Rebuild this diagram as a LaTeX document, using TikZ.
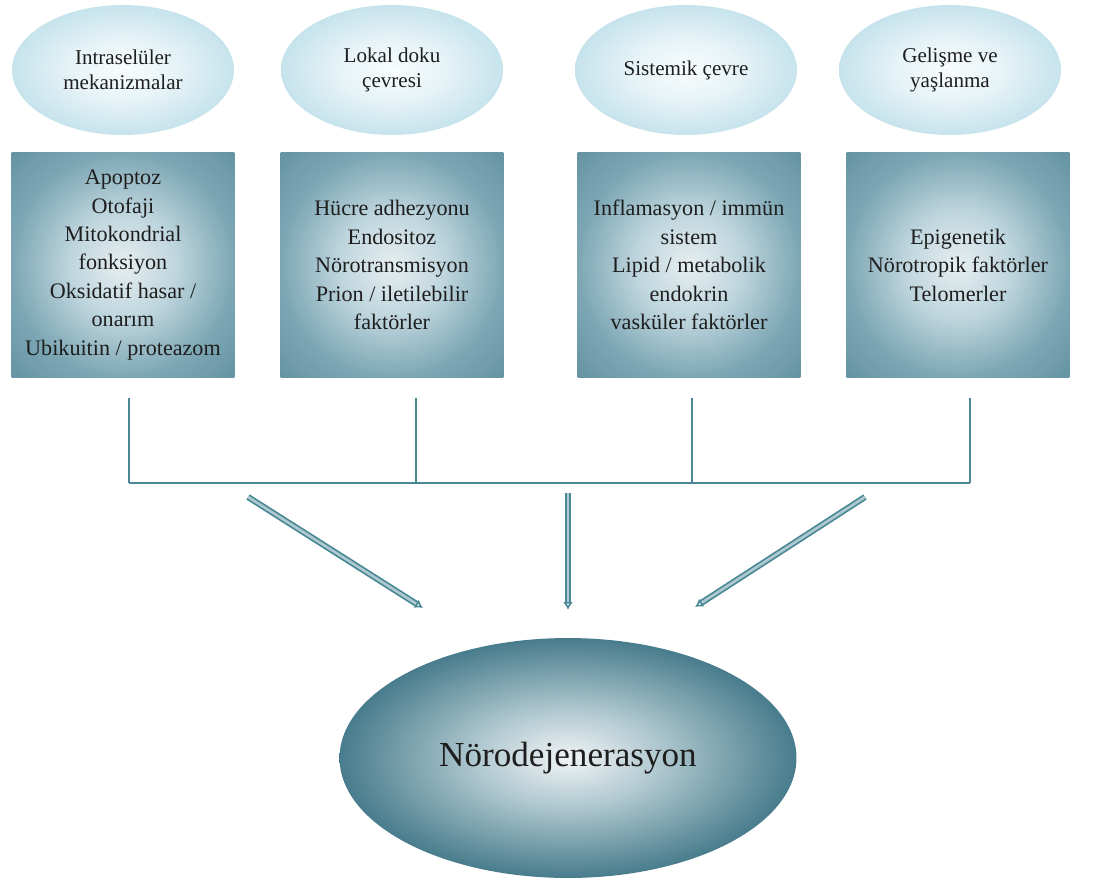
\documentclass[tikz,border=0pt]{standalone}
\usepackage{fontspec}
\setmainfont{Liberation Serif}
\usetikzlibrary{shapes.geometric,arrows.meta}

\definecolor{topin}{RGB}{248,252,253}
\definecolor{topmid}{RGB}{230,243,247}
\definecolor{topout}{RGB}{198,227,236}
\definecolor{boxin}{RGB}{230,238,240}
\definecolor{boxmid}{RGB}{190,213,221}
\definecolor{boxcol}{RGB}{124,166,180}
\definecolor{boxdark}{RGB}{100,146,162}
\definecolor{mainin}{RGB}{240,244,245}
\definecolor{mainmid}{RGB}{176,200,208}
\definecolor{maincol}{RGB}{72,124,140}
\definecolor{linecol}{RGB}{74,136,150}
\definecolor{textcol}{RGB}{30,30,30}

\pgfdeclareradialshading{topshade}{\pgfpointorigin}{color(0bp)=(topin); color(12bp)=(topmid); color(25bp)=(topout); color(50bp)=(topout)}
\pgfdeclareradialshading{boxshade}{\pgfpointorigin}{color(0bp)=(boxin); color(12bp)=(boxmid); color(25bp)=(boxcol); color(36bp)=(boxdark); color(50bp)=(boxdark)}
\pgfdeclareradialshading{mainshade}{\pgfpointorigin}{color(0bp)=(mainin); color(10bp)=(mainmid); color(25bp)=(maincol); color(50bp)=(maincol)}

\begin{document}
\begin{tikzpicture}[x=0.02cm,y=-0.02cm,
    topell/.style={ellipse, minimum width=4.44cm, minimum height=2.6cm,
        shade, shading=topshade, align=center, text=textcol,
        font=\fontsize{12}{14.2}\selectfont},
    factorbox/.style={rectangle, minimum width=4.46cm, minimum height=4.5cm,
        shade, shading=boxshade, align=center, text=textcol,
        font=\fontsize{12.6}{16.2}\selectfont},
    mainell/.style={ellipse, minimum width=9.14cm, minimum height=4.8cm,
        shade, shading=mainshade, text=textcol,
        font=\fontsize{20}{24}\selectfont},
    connector/.style={draw=linecol, line width=1.6pt},
    arrowline/.style={draw=linecol, line width=1pt, double=linecol!45!white,
        double distance=1.5pt, -{Latex[open,length=4.5pt,width=5.5pt]}}]

    \useasboundingbox (0,0) rectangle (1099,885);

    % Categories (top ellipses)
    \node[topell] (top1) at (123,70) {Intraselüler\\mekanizmalar};
    \node[topell] (top2) at (392,70) {Lokal doku\\çevresi};
    \node[topell] (top3) at (686,70) {Sistemik çevre};
    \node[topell] (top4) at (950,70) {Gelişme ve\\yaşlanma};

    % Factor boxes
    \node[factorbox] (box1) at (123,265) {Apoptoz\\Otofaji\\Mitokondrial\\fonksiyon\\Oksidatif hasar /\\onarım\\Ubikuitin / proteazom};
    \node[factorbox] (box2) at (392,265) {Hücre adhezyonu\\Endositoz\\Nörotransmisyon\\Prion / iletilebilir\\faktörler};
    \node[factorbox] (box3) at (689,265) {Inflamasyon / immün\\sistem\\Lipid / metabolik\\endokrin\\vasküler faktörler};
    \node[factorbox] (box4) at (958,265) {Epigenetik\\Nörotropik faktörler\\Telomerler};

    % Outcome
    \node[mainell] (neuro) at (568,758) {Nörodejenerasyon};

    % Collecting lines
    \foreach \i/\x in {1/129, 2/416, 3/692, 4/970} {
        \coordinate (up\i) at (\x,398);
        \coordinate (jn\i) at (\x,483);
        \draw[connector] (up\i) -- (jn\i);
    }
    \draw[connector] (jn1) -- (jn4);

    % Arrows to the outcome
    \coordinate (s1) at (248,497);
    \coordinate (e1) at (423,608);
    \coordinate (s2) at (568,493);
    \coordinate (e2) at (568,610);
    \coordinate (s3) at (865,497);
    \coordinate (e3) at (695,607);
    \foreach \i in {1,2,3}
        \draw[arrowline] (s\i) -- (e\i);
\end{tikzpicture}
\end{document}
